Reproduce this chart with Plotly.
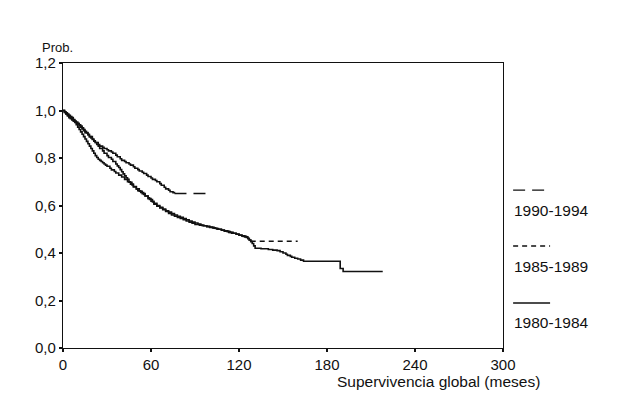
import plotly.graph_objects as go

series_names = ["1990-1994", "1985-1989", "1980-1984"]
series_dash = ["12px,7px", "5px,4px", "solid"]

# 1990-1994 Kaplan-Meier (months, survival)
t_9094 = [0, 1, 2, 3, 4, 5, 6, 7, 8, 9, 10, 11, 12, 13, 14, 15, 16, 17, 18, 19, 20, 21,
          22, 24, 25, 27, 28, 30, 31, 33, 34, 36, 37, 39, 40, 42, 43, 45, 46, 48, 49,
          51, 52, 54, 55, 57, 58, 60, 61, 63, 64, 66, 67, 69, 70, 72, 73, 75, 76, 100]
s_9094 = [1.0, 0.995, 0.99, 0.985, 0.98, 0.975, 0.97, 0.962, 0.955, 0.95, 0.945, 0.94,
          0.935, 0.927, 0.92, 0.912, 0.905, 0.897, 0.89, 0.884, 0.878, 0.871, 0.865,
          0.857, 0.85, 0.845, 0.84, 0.835, 0.83, 0.825, 0.82, 0.812, 0.805, 0.797, 0.79,
          0.785, 0.78, 0.775, 0.77, 0.763, 0.757, 0.751, 0.745, 0.74, 0.735, 0.728,
          0.722, 0.716, 0.71, 0.705, 0.70, 0.692, 0.685, 0.677, 0.67, 0.664, 0.658,
          0.654, 0.651, 0.651]

# 1985-1989
t_8589 = [0, 1, 2, 3, 4, 5, 6, 7, 8, 9, 10, 11, 12, 13, 14, 15, 17, 18, 20, 21, 22, 23,
          24, 25, 27, 28, 30, 31, 33, 34, 36, 37, 38, 39, 40, 41, 42, 43, 44, 45, 47,
          48, 50, 51, 53, 55, 56, 58, 59, 61, 62, 64, 66, 68, 70, 72, 74, 76, 78, 80,
          82, 84, 86, 88, 90, 93, 95, 98, 100, 103, 105, 108, 110, 113, 115, 118, 120,
          122, 123, 125, 126, 127, 128, 160]
s_8589 = [1.0, 0.992, 0.985, 0.98, 0.975, 0.97, 0.965, 0.96, 0.955, 0.95, 0.945, 0.937,
          0.93, 0.922, 0.915, 0.907, 0.9, 0.89, 0.88, 0.872, 0.865, 0.857, 0.85, 0.84,
          0.83, 0.82, 0.81, 0.802, 0.795, 0.785, 0.775, 0.767, 0.76, 0.751, 0.742, 0.733,
          0.725, 0.717, 0.71, 0.698, 0.686, 0.678, 0.67, 0.662, 0.655, 0.647, 0.64,
          0.632, 0.625, 0.615, 0.605, 0.597, 0.59, 0.582, 0.575, 0.567, 0.56, 0.555,
          0.55, 0.545, 0.54, 0.535, 0.53, 0.525, 0.52, 0.517, 0.515, 0.511, 0.508,
          0.504, 0.5, 0.496, 0.492, 0.487, 0.483, 0.479, 0.475, 0.472, 0.47, 0.465,
          0.46, 0.455, 0.449, 0.449]

# 1980-1984
t_8084 = [0, 1, 2, 3, 4, 5, 6, 7, 8, 9, 10, 11, 12, 13, 14, 15, 16, 17, 18, 19, 20, 21,
          22, 23, 24, 25, 26, 27, 28, 29, 30, 32, 33, 35, 36, 38, 40, 42, 44, 46, 48,
          50, 52, 54, 56, 58, 60, 62, 64, 66, 68, 70, 72, 74, 76, 78, 80, 82, 84, 86,
          88, 90, 92, 94, 96, 98, 100, 102, 104, 106, 108, 110, 112, 114, 116, 118, 120,
          122, 124, 126, 127, 128, 129, 130, 131, 135, 140, 143, 146, 148, 150, 152, 153,
          155, 156, 158, 160, 162, 164, 187, 189, 191, 218]
s_8084 = [1.0, 0.992, 0.985, 0.977, 0.97, 0.965, 0.96, 0.955, 0.95, 0.94, 0.93, 0.92,
          0.91, 0.9, 0.89, 0.88, 0.87, 0.86, 0.85, 0.84, 0.83, 0.82, 0.81, 0.802, 0.795,
          0.79, 0.785, 0.78, 0.775, 0.77, 0.765, 0.757, 0.75, 0.743, 0.737, 0.728, 0.72,
          0.71, 0.70, 0.69, 0.68, 0.67, 0.66, 0.65, 0.64, 0.629, 0.618, 0.609, 0.60,
          0.592, 0.585, 0.578, 0.572, 0.566, 0.56, 0.555, 0.55, 0.545, 0.54, 0.535,
          0.53, 0.526, 0.522, 0.518, 0.515, 0.512, 0.509, 0.506, 0.503, 0.5, 0.497,
          0.494, 0.49, 0.487, 0.483, 0.48, 0.476, 0.472, 0.468, 0.462, 0.455, 0.448,
          0.44, 0.43, 0.42, 0.418, 0.415, 0.412, 0.41, 0.405, 0.40, 0.395, 0.39, 0.386,
          0.382, 0.378, 0.375, 0.37, 0.365, 0.365, 0.335, 0.322, 0.322]

x_ticks = [0, 60, 120, 180, 240, 300]
y_ticks = [0.0, 0.2, 0.4, 0.6, 0.8, 1.0, 1.2]

# number of trailing points forming the censored flat tail (drawn with series dash)
tails = [2, 2, 0]

LINE = "#111111"
FONT = "Liberation Sans, Arial, sans-serif"

fig = go.Figure()
data = [(t_9094, s_9094), (t_8589, s_8589), (t_8084, s_8084)]
for (t, s), name, dash, tail in zip(data, series_names, series_dash, tails):
    if tail:
        fig.add_trace(go.Scatter(x=t[:-tail + 1], y=s[:-tail + 1], mode="lines",
                                 line=dict(color=LINE, width=1.6, shape="hv"),
                                 name=name, showlegend=False))
        fig.add_trace(go.Scatter(x=t[-tail:], y=s[-tail:], mode="lines",
                                 line=dict(color=LINE, width=1.5, shape="hv", dash=dash),
                                 name=name, showlegend=False))
    else:
        fig.add_trace(go.Scatter(x=t, y=s, mode="lines",
                                 line=dict(color=LINE, width=1.6, shape="hv"),
                                 name=name, showlegend=False))

# custom legend: line sample above label
leg_sample_y = [0.554, 0.358, 0.158]
leg_text_y = [0.482, 0.286, 0.089]
for name, dash, ys, yt in zip(series_names, series_dash, leg_sample_y, leg_text_y):
    fig.add_shape(type="line", xref="paper", yref="paper", x0=1.023, x1=1.107,
                  y0=ys, y1=ys, line=dict(color=LINE, width=1.4, dash=dash))
    fig.add_annotation(text=name, xref="paper", yref="paper", x=1.02, y=yt,
                       xanchor="left", yanchor="middle", showarrow=False,
                       font=dict(size=15.5, color=LINE, family=FONT))

fig.add_annotation(text="Prob.", xref="paper", yref="paper", x=-0.052, y=1.056,
                   xanchor="left", yanchor="middle", showarrow=False,
                   font=dict(size=13, color=LINE, family=FONT))
fig.add_annotation(text="Supervivencia global (meses)", xref="paper", yref="paper",
                   x=1.088, y=-0.118, xanchor="right", yanchor="middle", showarrow=False,
                   font=dict(size=15.5, color=LINE, family=FONT))

fig.update_xaxes(range=[0, 300], tickvals=x_ticks, showgrid=False, zeroline=False,
                 showline=True, linecolor=LINE, linewidth=1.4, mirror=True,
                 ticks="outside", ticklen=3, tickwidth=2, tickcolor=LINE,
                 tickfont=dict(size=15, color=LINE, family=FONT))
fig.update_yaxes(range=[0, 1.2], tickvals=y_ticks, tickformat=".1f", showgrid=False,
                 zeroline=False, showline=True, linecolor=LINE, linewidth=1.4, mirror=True,
                 ticks="outside", ticklen=3, tickwidth=2, tickcolor=LINE,
                 tickfont=dict(size=15, color=LINE, family=FONT))

fig.update_layout(width=626, height=419, separators=",.",
                  margin=dict(l=63, r=123, t=63, b=71),
                  plot_bgcolor="white", paper_bgcolor="white",
                  font=dict(family=FONT, color=LINE))

fig.write_html("out.html")
